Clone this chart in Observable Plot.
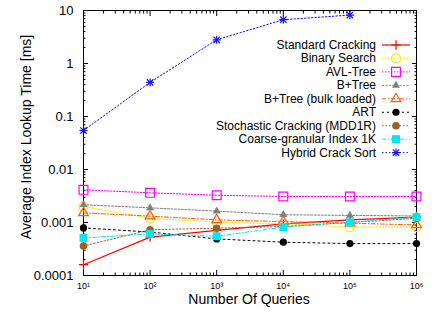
<!DOCTYPE html>
<html><head><meta charset="utf-8">
<script src="https://cdn.jsdelivr.net/npm/d3@7"></script>
<script src="https://cdn.jsdelivr.net/npm/@observablehq/plot@0.6"></script>
<style>
html,body{margin:0;padding:0;background:#fff;}
#chart{width:443px;height:312px;}
</style></head><body><div id="chart"></div>
<script>
// ---------- data ----------
const queries = [10, 100, 1000, 10000, 100000, 1000000];
const seriesNames = ["Standard Cracking", "Binary Search", "AVL-Tree", "B+Tree", "B+Tree (bulk loaded)", "ART", "Stochastic Cracking (MDD1R)", "Coarse-granular Index 1K", "Hybrid Crack Sort"];
const standardCracking = [0.00016, 0.00053, 0.00071, 0.00094, 0.00112, 0.00126];
const binarySearch     = [0.0020, 0.0012, 0.00101, 0.00095, 0.00082, 0.00082];
const avlTree          = [0.00414, 0.00363, 0.00327, 0.0031, 0.0031, 0.0031];
const bPlusTree        = [0.00216, 0.00189, 0.00164, 0.0014, 0.00136, 0.00133];
const bPlusTreeBulk    = [0.00152, 0.00132, 0.00112, 0.00104, 0.00097, 0.0009];
const art              = [0.00079, 0.00066, 0.00049, 0.000425, 0.0004, 0.0004];
const stochastic       = [0.00036, 0.00073, 0.00078, 0.00084, 0.001, 0.0012];
const coarse           = [0.00051, 0.00061, 0.00055, 0.00082, 0.00101, 0.00126];
const hybrid           = [0.0544, 0.44, 2.8, 6.7, 8.2];
const yTicks = [0.0001, 0.001, 0.01, 0.1, 1, 10];
const yTickLabels = ["0.0001", "0.001", "0.01", "0.1", "1", "10"];
const xTicks = [10, 100, 1000, 10000, 100000, 1000000];
const xTickLabels = ["10\u00B9", "10\u00B2", "10\u00B3", "10\u2074", "10\u2075", "10\u2076"];
const xTitle = "Number Of Queries";
const yTitle = "Average Index Lookup Time [ms]";

// ---------- styles ----------
const allValues = [standardCracking, binarySearch, avlTree, bPlusTree, bPlusTreeBulk, art, stochastic, coarse, hybrid];
const styles = [
  {color:"#ff0000", dash:null,      width:1.2, syms:[["plus",3.1,false]]},
  {color:"#ffe600", dash:"1.5,1.5", width:1,   syms:[["circle",4.5,false]]},
  {color:"#ff00ff", dash:"1.5,1.5", width:1,   syms:[["square",5,false]]},
  {color:"#808080", dash:"2,1.5",   width:1,   syms:[["triangle",3,true]]},
  {color:"#ff5a14", dash:"4,2,1,2", width:1,   syms:[["triangle",3.6,false]]},
  {color:"#000000", dash:"2,3",     width:1,   syms:[["circle",3.6,true]]},
  {color:"#9a6025", dash:"1.5,2",   width:1,   syms:[["circle",3.8,true]]},
  {color:"#00e8f0", dash:"4,2,1,2", width:1,   syms:[["square",4.5,true]]},
  {color:"#1010ff", dash:"1.5,2",   width:1,   syms:[["plus",2.7,false],["times",3.0,false]]}
];

const minorFrom = (lo, hi) => { const out = []; for (let e = lo; e < hi; e++) for (let m = 2; m <= 9; m++) out.push(m * Math.pow(10, e)); return out; };
const xMinor = minorFrom(1, 6);
const yMinor = minorFrom(-4, 1);

const marks = [];
marks.push(Plot.frame({stroke:"black", strokeWidth:1}));
for (const [anchor, list, size] of [["bottom", xTicks, -5], ["top", xTicks, -5], ["bottom", xMinor, -2.5], ["top", xMinor, -2.5]])
  marks.push(Plot.axisX(list, {anchor, tickSize:size, fill:"none", label:null}));
for (const [anchor, list, size] of [["left", yTicks, -5], ["right", yTicks, -5], ["left", yMinor, -2.5], ["right", yMinor, -2.5]])
  marks.push(Plot.axisY(list, {anchor, tickSize:size, fill:"none", label:null}));
const xLab = new Map(xTicks.map((d, i) => [d, xTickLabels[i]]));
const yLab = new Map(yTicks.map((d, i) => [d, yTickLabels[i]]));
marks.push(Plot.axisX(xTicks, {anchor:"bottom", tickSize:0, tickPadding:7, tickFormat:d => xLab.get(d), fontSize:9, label:null}));
marks.push(Plot.axisY(yTicks, {anchor:"left", tickSize:0, tickPadding:10, tickFormat:d => yLab.get(d), fontSize:13, label:null}));

allValues.forEach((vals, si) => {
  const st = styles[si];
  const rows = vals.map((v, i) => ({q: queries[i], v}));
  marks.push(Plot.line(rows, {x:"q", y:"v", stroke:st.color, strokeWidth:st.width, strokeDasharray:st.dash || undefined}));
  for (const [sym, r, filled] of st.syms) {
    marks.push(Plot.dot(rows, {x:"q", y:"v", symbol:sym, r,
      fill: filled ? st.color : "none", stroke: filled ? "none" : st.color, strokeWidth: 1.2}));
  }
});

const svg = Plot.plot({
  width: 443, height: 312,
  marginLeft: 83, marginRight: 27, marginTop: 10, marginBottom: 37,
  x: {type:"log", domain:[10, 1e6]},
  y: {type:"log", domain:[1e-4, 10]},
  style: {fontFamily:"'Liberation Sans', Arial, sans-serif", fontSize:"12px", color:"black", background:"white", overflow:"visible"},
  marks
});

// ---------- titles & legend ----------
const g = d3.select(svg).append("g").attr("font-family", "'Liberation Sans', Arial, sans-serif").attr("fill", "black");
g.append("text").attr("x", 249).attr("y", 303.5).attr("text-anchor", "middle").attr("font-size", 14).text(xTitle);
g.append("text").attr("transform", "translate(30.7,137) rotate(-90)").attr("text-anchor", "middle").attr("font-size", 14).text(yTitle);

const symType = {plus:d3.symbolPlus, times:d3.symbolTimes, circle:d3.symbolCircle, square:d3.symbolSquare, triangle:d3.symbolTriangle};
seriesNames.forEach((name, i) => {
  const st = styles[i];
  const y = 45 + i * 13.45;
  g.append("text").attr("x", 376).attr("y", y + 4).attr("text-anchor", "end").attr("font-size", 12).text(name);
  g.append("line").attr("x1", 382).attr("x2", 410).attr("y1", y).attr("y2", y)
    .attr("stroke", st.color).attr("stroke-width", st.width).attr("stroke-dasharray", st.dash);
  for (const [sym, r, filled] of st.syms) {
    g.append("path").attr("transform", `translate(396,${y})`)
      .attr("d", d3.symbol(symType[sym], r * r * Math.PI)())
      .attr("fill", filled ? st.color : "none").attr("stroke", filled ? "none" : st.color).attr("stroke-width", 1.2);
  }
});

document.getElementById("chart").appendChild(svg);
</script>
</body></html>
